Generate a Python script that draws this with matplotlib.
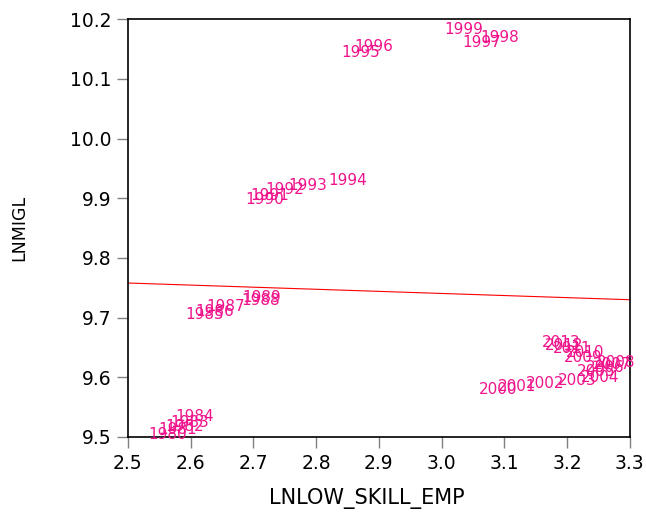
import matplotlib
matplotlib.use('Agg')
import matplotlib.pyplot as plt

plt.rcParams['font.family'] = ['DejaVu Sans']

years = list(range(1980, 2014))
# LNLOW_SKILL_EMP
lnlow = [2.564, 2.580, 2.591, 2.599, 2.607,
         2.623, 2.639, 2.655, 2.712, 2.714,
         2.718, 2.726, 2.750, 2.787, 2.851,
         2.871, 2.892, 3.064, 3.093, 3.035,
         3.090, 3.121, 3.165, 3.216, 3.252,
         3.247, 3.260, 3.272, 3.278, 3.225,
         3.228, 3.208, 3.195, 3.190]
# LNMIGL
lnmigl = [9.505, 9.513, 9.518, 9.525, 9.535,
          9.706, 9.711, 9.719, 9.729, 9.734,
          9.898, 9.905, 9.914, 9.922, 9.930,
          10.145, 10.155, 10.161, 10.170, 10.182,
          9.579, 9.584, 9.590, 9.595, 9.600,
          9.609, 9.617, 9.621, 9.625, 9.634,
          9.642, 9.649, 9.654, 9.659]
# fitted regression line end points
fit_x = [2.5, 3.3]
fit_y = [9.758, 9.730]

fig = plt.figure(figsize=(6.46, 5.19), dpi=100)
ax = fig.add_axes([0.198, 0.158, 0.777, 0.805])

for x, y, yr in zip(lnlow, lnmigl, years):
    ax.text(x, y, str(yr), ha='center', va='center', fontsize=11,
            color='#f0148c', clip_on=False)

ax.plot(fit_x, fit_y, color='red', linewidth=0.8)

ax.set_xlim(2.5, 3.3)
ax.set_ylim(9.5, 10.2)
ax.set_xticks([2.5, 2.6, 2.7, 2.8, 2.9, 3.0, 3.1, 3.2, 3.3])
ax.set_yticks([9.5, 9.6, 9.7, 9.8, 9.9, 10.0, 10.1, 10.2])
ax.xaxis.set_major_formatter(matplotlib.ticker.FormatStrFormatter('%.1f'))
ax.yaxis.set_major_formatter(matplotlib.ticker.FormatStrFormatter('%.1f'))
ax.tick_params(direction='out', length=8, width=1, color='#808080',
               labelsize=13.5, pad=4)
for s in ax.spines.values():
    s.set_linewidth(1.2)
    s.set_color('black')

ax.set_xlabel('LNLOW_SKILL_EMP', fontsize=15)
ax.xaxis.set_label_coords(0.476, -0.122)
ax.set_ylabel('LNMIGL', fontsize=12.5, labelpad=30)

fig.savefig('out.png', dpi=100)
